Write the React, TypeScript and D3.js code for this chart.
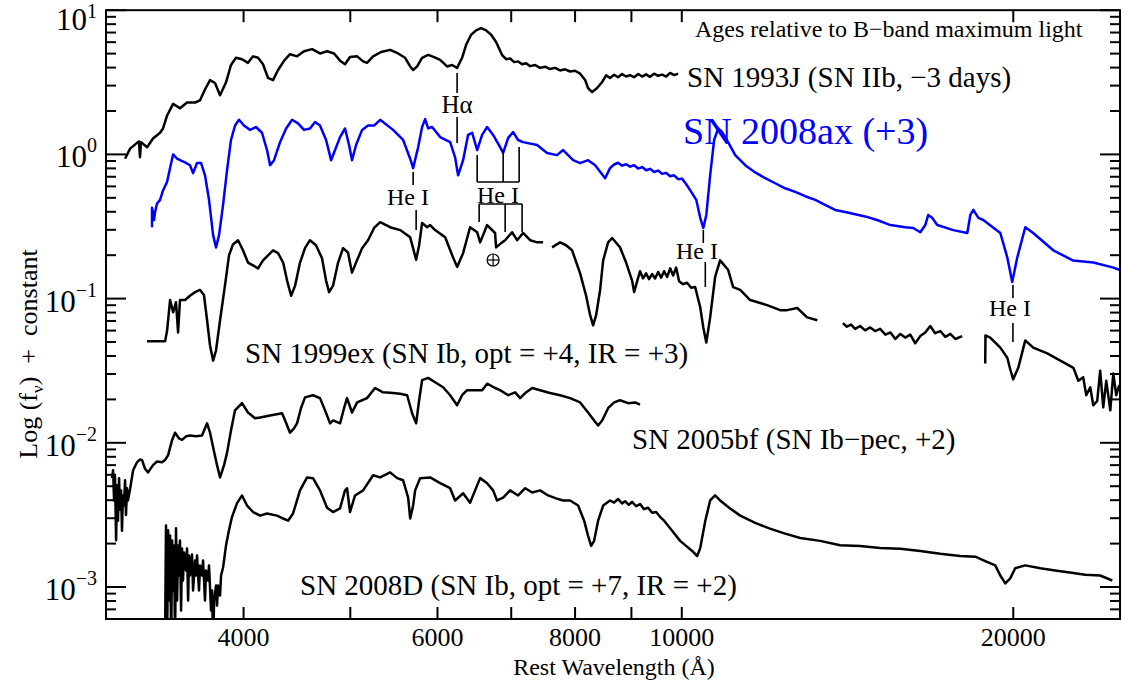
import React from 'react';
import * as d3 from 'd3';

type P = [number, number]; // [rest wavelength (Å), log10 f_nu + constant]

const sn1993J: P[] = [
  [3122,-0.03],[3155,0.04],[3201,0.08],[3214,0.09],[3221,-0.02],[3228,0.085],[3269,0.05],[3310,0.11],[3359,0.15],[3380,0.18],
  [3409,0.27],[3452,0.35],[3502,0.32],[3554,0.36],[3614,0.36],[3652,0.375],[3690,0.45],[3729,0.515],[3768,0.495],[3808,0.41],
  [3856,0.50],[3896,0.62],[3937,0.67],[3987,0.66],[4037,0.635],[4080,0.68],[4123,0.67],[4166,0.625],[4210,0.53],[4254,0.515],
  [4299,0.585],[4354,0.65],[4408,0.695],[4473,0.68],[4539,0.715],[4616,0.73],[4693,0.70],[4763,0.715],[4833,0.70],[4894,0.65],
  [4945,0.625],[4997,0.675],[5072,0.68],[5136,0.645],[5178,0.635],[5244,0.68],[5333,0.71],[5434,0.725],[5526,0.70],[5607,0.67],
  [5667,0.61],[5702,0.585],[5750,0.61],[5810,0.67],[5884,0.69],[5958,0.675],[6033,0.655],[6122,0.61],[6186,0.62],[6251,0.60],
  [6317,0.67],[6370,0.76],[6437,0.83],[6505,0.86],[6573,0.875],[6642,0.86],[6712,0.83],[6782,0.78],[6868,0.689],[6926,0.66],
  [6984,0.665],[7043,0.64],[7102,0.645],[7162,0.625],[7222,0.632],[7283,0.612],[7359,0.62],[7436,0.60],[7514,0.608],[7592,0.592],
  [7672,0.60],[7753,0.582],[7835,0.59],[7917,0.575],[8000,0.58],[8085,0.56],[8170,0.516],[8221,0.46],[8290,0.432],[8377,0.46],
  [8466,0.502],[8537,0.548],[8607,0.53],[8680,0.552],[8752,0.535],[8826,0.557],[8901,0.54],[8975,0.55],[9051,0.535],[9128,0.558],
  [9205,0.54],[9281,0.555],[9357,0.538],[9437,0.56],[9517,0.545],[9597,0.553],[9678,0.54],[9760,0.565],[9841,0.55],[9924,0.56]
];

const sn2008ax: P[] = [
  [3303,-0.505],[3303,-0.37],[3317,-0.455],[3324,-0.40],[3338,-0.34],[3359,-0.315],[3380,-0.25],[3409,-0.19],[3430,-0.095],[3452,0.0],
  [3481,-0.03],[3502,-0.04],[3539,-0.055],[3576,-0.075],[3599,-0.13],[3629,-0.06],[3660,-0.06],[3690,-0.145],[3721,-0.315],[3753,-0.56],
  [3776,-0.645],[3800,-0.56],[3832,-0.35],[3864,-0.11],[3896,0.10],[3929,0.20],[3962,0.24],[4003,0.20],[4054,0.17],[4105,0.19],
  [4157,0.15],[4201,0.03],[4228,-0.075],[4263,-0.04],[4317,0.085],[4372,0.18],[4427,0.24],[4482,0.215],[4539,0.17],[4596,0.18],
  [4645,0.225],[4693,0.20],[4753,0.10],[4803,-0.04],[4843,0.03],[4894,0.12],[4945,0.18],[4987,0.065],[5018,-0.04],[5061,0.065],
  [5125,0.17],[5189,0.20],[5255,0.20],[5322,0.24],[5468,0.17],[5584,0.10],[5667,-0.03],[5702,-0.095],[5762,0.05],[5810,0.19],
  [5847,0.245],[5884,0.18],[5933,0.19],[6033,0.12],[6161,0.085],[6225,-0.02],[6264,-0.145],[6330,-0.04],[6396,0.135],[6451,0.15],
  [6519,0.03],[6587,0.135],[6656,0.19],[6740,0.135],[6839,0.05],[6883,0.01],[6956,0.115],[7028,0.155],[7102,0.10],[7176,0.085],
  [7390,0.065],[7545,0.01],[7704,-0.005],[7802,0.03],[7967,-0.04],[8085,-0.06],[8221,-0.04],[8343,-0.075],[8430,-0.12],[8519,-0.165],
  [8607,-0.095],[8680,-0.07],[8752,-0.058],[8826,-0.078],[8901,-0.068],[8975,-0.085],[9051,-0.075],[9128,-0.098],[9205,-0.088],[9281,-0.11],
  [9357,-0.10],[9437,-0.122],[9517,-0.112],[9597,-0.135],[9678,-0.128],[9760,-0.152],[9841,-0.145],[9924,-0.172],[10006,-0.168],[10090,-0.205],
  [10176,-0.248],[10307,-0.315],
  [10393,-0.44],[10460,-0.51],[10526,-0.42],[10611,-0.145],[10700,0.10],[10789,0.18],[10880,0.155],[11016,0.085],[11182,-0.005],[11418,-0.075],
  [11659,-0.125],[11904,-0.165],[12156,-0.20],[12413,-0.235],[12677,-0.26],[12944,-0.29],[13220,-0.315],[13494,-0.35],[13779,-0.385],[14072,-0.40],
  [14369,-0.415],[14673,-0.43],[15045,-0.455],[15468,-0.49],[15955,-0.505],[16224,-0.51],[16466,-0.54],[16638,-0.49],[16742,-0.42],[16882,-0.44],
  [17059,-0.49],[17644,-0.525],[18166,-0.545],[18282,-0.42],[18398,-0.385],[18591,-0.44],[18784,-0.455],[19465,-0.545],[19751,-0.715],[19955,-0.885],
  [20167,-0.715],[20508,-0.505],[20850,-0.545],[21744,-0.665],[22650,-0.735],[23645,-0.75],[24657,-0.785],[24960,-0.80]
];

const sn1999exOptBlue: P[] = [
  [3269,-1.295],[3395,-1.295],[3409,-1.22],[3430,-1.01],[3452,-1.095],[3473,-1.025],[3488,-1.235],[3502,-1.01],[3539,-1.01],[3576,-0.98],
  [3614,-0.955],[3652,-0.94],[3682,-0.975],[3706,-1.15],[3729,-1.325],[3753,-1.43],[3776,-1.36],[3808,-1.15],[3848,-0.905],[3880,-0.70],
  [3912,-0.625],[3954,-0.595],[3995,-0.665],[4037,-0.75],[4080,-0.77],[4123,-0.79],[4166,-0.735],[4210,-0.70],[4254,-0.665],[4299,-0.685],
  [4345,-0.75],[4381,-0.875],[4418,-0.98],[4455,-0.91],[4501,-0.75],[4548,-0.65],[4596,-0.595],[4654,-0.63],[4713,-0.72],[4753,-0.875],
  [4783,-0.955],[4823,-0.91],[4874,-0.75],[4925,-0.65],[4976,-0.68],[5018,-0.82],[5061,-0.75],[5125,-0.65],[5189,-0.595],[5255,-0.51],
  [5322,-0.47],[5434,-0.505],[5549,-0.525],[5667,-0.575],[5738,-0.73],[5774,-0.63],[5810,-0.475],[5872,-0.505],[5909,-0.49],[5970,-0.525],
  [6097,-0.575],[6199,-0.715],[6251,-0.78],[6330,-0.685],[6423,-0.505],[6519,-0.54],[6560,-0.61],[6656,-0.49],[6768,-0.545],[6782,-0.645],
  [6868,-0.61],[6912,-0.595],[7013,-0.54],[7087,-0.595],[7176,-0.545],[7283,-0.595],[7390,-0.61],[7483,-0.61]
];
const sn1999exOptRed: P[] = [
  [7624,-0.645],[7753,-0.61],[7851,-0.63],[7950,-0.665],[8085,-0.825],[8187,-0.98],[8256,-1.115],[8308,-1.185],[8360,-1.115],[8430,-0.94],
  [8484,-0.735],[8572,-0.61],[8644,-0.58],[8789,-0.645],[8901,-0.75],[9013,-0.875],[9051,-0.955],[9164,-0.81],[9223,-0.86],[9281,-0.825],
  [9338,-0.865],[9397,-0.83],[9457,-0.86],[9517,-0.815],[9577,-0.855],[9637,-0.81],[9698,-0.85],[9760,-0.79],[9821,-0.84],[9882,-0.785],
  [9944,-0.88],[10027,-0.90],[10111,-0.89],[10197,-0.925],[10283,-0.92],[10393,-1.06],[10460,-1.20],[10526,-1.305],
  [10611,-1.13],[10722,-0.85],[10834,-0.735],[11016,-0.80],[11134,-0.92],[11300,-0.94],[11537,-1.01],[11953,-1.045],[12284,-1.08],[12464,-1.08],
  [12730,-1.065],[12997,-1.13],[13277,-1.15]
];
const sn1999exH: P[] = [
  [14006,-1.17],[14124,-1.195],[14248,-1.18],[14369,-1.21],[14518,-1.19],[14673,-1.22],[14828,-1.20],[14982,-1.225],[15140,-1.21],[15306,-1.25],
  [15468,-1.235],[15630,-1.28],[15793,-1.245],[15955,-1.27],[16125,-1.25],[16293,-1.31],[16466,-1.26],[16638,-1.235],[16813,-1.19],[16985,-1.24],
  [17168,-1.225],[17350,-1.265],[17533,-1.245],[17717,-1.28],[17973,-1.26]
];
const sn1999exK: P[] = [
  [18860,-1.45],[18870,-1.255],[19057,-1.27],[19261,-1.305],[19465,-1.34],[19751,-1.41],[19873,-1.49],[19996,-1.56],[20209,-1.48],[20508,-1.29],
  [20850,-1.34],[21474,-1.38],[22069,-1.43],[22678,-1.48],[22915,-1.57],[23148,-1.545],[23296,-1.67],[23492,-1.615],[23640,-1.74],[23837,-1.71],
  [23985,-1.50],[24139,-1.755],[24292,-1.57],[24498,-1.775],[24651,-1.52],[24805,-1.67],[24960,-1.60]
];

const sn2005bf: P[] = [
  [3038,-2.245],[3045,-2.19],[3051,-2.40],[3057,-2.23],[3064,-2.675],[3070,-2.295],[3076,-2.54],[3083,-2.245],[3089,-2.465],[3096,-2.33],
  [3102,-2.61],[3108,-2.365],[3115,-2.435],[3122,-2.26],[3128,-2.50],[3135,-2.315],[3141,-2.40],[3155,-2.32],[3175,-2.19],[3201,-2.135],
  [3221,-2.115],[3235,-2.12],[3255,-2.18],[3276,-2.205],[3310,-2.155],[3338,-2.13],[3373,-2.135],[3394,-2.12],[3416,-2.085],[3445,-1.98],
  [3466,-1.93],[3495,-1.97],[3517,-1.98],[3547,-1.955],[3576,-1.95],[3621,-1.955],[3667,-1.95],[3706,-1.865],[3729,-1.93],[3753,-2.03],
  [3784,-2.155],[3808,-2.24],[3840,-2.155],[3864,-2.07],[3896,-1.915],[3929,-1.775],[3987,-1.725],[4037,-1.79],[4097,-1.83],[4140,-1.825],
  [4228,-1.81],[4335,-1.795],[4363,-1.845],[4408,-1.93],[4445,-1.90],[4473,-1.865],[4510,-1.76],[4548,-1.685],[4625,-1.67],[4693,-1.69],
  [4743,-1.775],[4793,-1.865],[4823,-1.845],[4894,-1.865],[4935,-1.76],[4966,-1.69],[5018,-1.79],[5072,-1.72],[5125,-1.705],[5178,-1.69],
  [5266,-1.62],[5354,-1.65],[5468,-1.655],[5549,-1.66],[5631,-1.67],[5690,-1.795],[5738,-1.865],[5774,-1.705],[5810,-1.565],[5884,-1.55],
  [5970,-1.58],[6071,-1.615],[6161,-1.67],[6251,-1.74],[6317,-1.67],[6383,-1.635],[6519,-1.635],[6587,-1.635],[6656,-1.59],[6768,-1.62],
  [6839,-1.635],[6956,-1.67],[7058,-1.65],[7132,-1.69],[7208,-1.655],[7314,-1.62],[7436,-1.635],[7592,-1.655],[7753,-1.67],[7917,-1.69],
  [8085,-1.72],[8221,-1.79],[8325,-1.845],[8395,-1.88],[8466,-1.845],[8572,-1.76],[8680,-1.72],[8789,-1.705],[8938,-1.725],[9070,-1.72],[9164,-1.735]
];

const sn2008D: P[] = [
  [3394,-3.40],[3401,-2.573],[3409,-3.40],[3416,-2.607],[3423,-3.094],[3430,-2.642],[3438,-3.40],[3445,-2.677],[3452,-3.024],[3459,-2.712],
  [3466,-3.40],[3473,-2.593],[3481,-3.094],[3488,-2.712],[3495,-2.92],[3502,-2.677],[3510,-3.163],[3517,-2.733],[3524,-2.955],[3532,-2.761],
  [3547,-2.886],[3554,-2.733],[3562,-3.094],[3569,-2.782],[3576,-2.92],[3591,-2.775],[3599,-3.024],[3614,-2.816],[3621,-2.92],[3629,-2.782],
  [3644,-3.024],[3652,-2.851],[3667,-2.92],[3675,-2.816],[3690,-3.094],[3698,-2.886],[3713,-2.955],[3721,-2.851],[3737,-3.163],[3745,-3.024],
  [3753,-3.40],[3761,-3.094],[3776,-2.99],[3784,-3.129],[3792,-2.99],[3808,-3.059],[3816,-2.92],[3832,-2.865],
  [3856,-2.71],[3880,-2.605],[3904,-2.515],[3945,-2.42],[3987,-2.365],[4029,-2.435],[4080,-2.48],[4140,-2.505],[4201,-2.49],[4290,-2.505],
  [4345,-2.525],[4390,-2.54],[4436,-2.49],[4501,-2.33],[4568,-2.24],[4625,-2.245],[4693,-2.33],[4763,-2.45],[4823,-2.48],[4894,-2.455],
  [4945,-2.33],[4966,-2.315],[4997,-2.48],[5050,-2.365],[5136,-2.33],[5244,-2.225],[5322,-2.24],[5434,-2.205],[5515,-2.245],[5584,-2.26],
  [5643,-2.38],[5667,-2.525],[5702,-2.435],[5726,-2.33],[5786,-2.245],[5909,-2.24],[6033,-2.28],[6161,-2.315],[6225,-2.40],[6330,-2.35],
  [6423,-2.415],[6491,-2.33],[6560,-2.245],[6656,-2.28],[6740,-2.33],[6796,-2.40],[6883,-2.38],[6984,-2.33],[7102,-2.365],[7208,-2.315],
  [7314,-2.345],[7436,-2.33],[7561,-2.365],[7689,-2.385],[7802,-2.40],[7917,-2.40],[8051,-2.435],[8153,-2.54],[8221,-2.645],[8273,-2.715],
  [8325,-2.68],[8395,-2.54],[8484,-2.435],[8607,-2.40],[8680,-2.415],[8752,-2.39],[8826,-2.42],[8882,-2.405],[8950,-2.43],[9013,-2.41],
  [9090,-2.44],[9164,-2.425],[9240,-2.46],[9320,-2.45],[9400,-2.485],[9477,-2.48],[9560,-2.515],
  [9637,-2.54],[9800,-2.61],[9965,-2.68],[10090,-2.715],[10219,-2.75],[10327,-2.785],[10393,-2.73],[10504,-2.54],[10611,-2.40],[10722,-2.365],
  [10834,-2.40],[11063,-2.455],[11300,-2.505],[11659,-2.555],[12023,-2.595],[12413,-2.63],[12810,-2.66],[13356,-2.68],[13925,-2.71],[14518,-2.715],
  [15140,-2.73],[15793,-2.735],[16466,-2.75],[17168,-2.77],[17900,-2.785],[18475,-2.79],[18861,-2.82],[19261,-2.85],[19465,-2.92],[19669,-2.975],
  [19873,-2.94],[20081,-2.87],[20508,-2.85],[21158,-2.87],[21834,-2.885],[22510,-2.90],[23246,-2.915],[23985,-2.92],[24600,-2.955]
];

const xTicks = [4000, 5000, 6000, 7000, 8000, 9000, 10000, 20000];
const xTickLabels = [4000, 6000, 8000, 10000, 20000];
const yMajor = [1, 0, -1, -2, -3];

const FONT = "'Liberation Serif', 'Times New Roman', serif";

export default function App() {
  const X0 = 106, X1 = 1120, Y0 = 619, Y1 = 10.2;
  const x = d3.scaleLog().domain([3000, 25000]).range([X0, X1]);
  const y = d3.scaleLog().domain([6e-4, 10]).range([Y0, Y1]);
  const line = d3.line<P>().x(d => x(d[0])).y(d => y(Math.pow(10, d[1])));

  const minor: number[] = [];
  for (let e = -4; e <= 0; e++) for (let k = 2; k <= 9; k++) {
    const v = k * Math.pow(10, e);
    if (v > 6e-4 && v < 10) minor.push(v);
  }

  const black = [sn1993J, sn1999exOptBlue, sn1999exOptRed, sn1999exH, sn1999exK, sn2005bf, sn2008D];
  const vline = (lam: number, ya: number, yb: number, key: string) => (
    <line key={key} x1={x(lam)} x2={x(lam)} y1={ya} y2={yb} stroke="#000" strokeWidth={1.6} />
  );
  const minusify = (e: number) => (e < 0 ? '\u2212' + Math.abs(e) : String(e));

  return (
    <svg width={1123} height={681} style={{ position: 'absolute', left: 0, top: 0, background: '#fff' }} fontFamily={FONT}>
      <rect x={0} y={0} width={1123} height={681} fill="#fff" />
      <defs>
        <clipPath id="plot"><rect x={X0} y={Y1} width={X1 - X0} height={Y0 - Y1} /></clipPath>
      </defs>
      <g clipPath="url(#plot)" fill="none" strokeLinejoin="round">
        {black.map((s, i) => <path key={i} d={line(s) || ''} stroke="#000" strokeWidth={2.5} />)}
        <path d={line(sn2008ax) || ''} stroke="#0000ff" strokeWidth={2.5} />
      </g>

      {/* line identifications */}
      <g>
        {vline(6251, 73, 93, 'ha1')}{vline(6251, 117, 143, 'ha2')}
        {vline(5702, 172, 185, 'he1a')}{vline(5738, 210, 230, 'he1b')}
        {vline(6519, 155, 182, 'b1')}{vline(6883, 150, 182, 'b2')}{vline(7117, 147, 182, 'b3')}
        <line x1={x(6519)} x2={x(7117)} y1={182} y2={182} stroke="#000" strokeWidth={1.6} />
        {vline(6546, 204, 222, 'c1')}{vline(6912, 204, 232, 'c2')}{vline(7161, 204, 232, 'c3')}
        <line x1={x(6546)} x2={x(7161)} y1={204} y2={204} stroke="#000" strokeWidth={1.6} />
        {vline(10460, 230, 243, 'd1')}{vline(10504, 262, 287, 'd2')}
        {vline(19985, 285, 298, 'e1')}{vline(19985, 323, 342, 'e2')}
        <circle cx={x(6740)} cy={260} r={6} fill="none" stroke="#000" strokeWidth={1.2} />
        <line x1={x(6740) - 6} x2={x(6740) + 6} y1={260} y2={260} stroke="#000" strokeWidth={1.2} />
        <line x1={x(6740)} x2={x(6740)} y1={254} y2={266} stroke="#000" strokeWidth={1.2} />
      </g>
      <g fontSize={24} fill="#000">
        <text x={457} y={113} textAnchor="middle" fontSize={25}>H&#945;</text>
        <text x={408} y={205} textAnchor="middle">He I</text>
        <text x={498} y={203} textAnchor="middle">He I</text>
        <text x={697} y={259} textAnchor="middle">He I</text>
        <text x={1010} y={316} textAnchor="middle">He I</text>
      </g>

      {/* spectrum labels */}
      <g fill="#000">
        <text x={695} y={37} fontSize={24}>Ages relative to B{'\u2212'}band maximum light</text>
        <text x={687} y={87} fontSize={29}>SN 1993J (SN IIb, {'\u2212'}3 days)</text>
        <text x={683} y={144} fontSize={38} fill="#0000ff">SN 2008ax (+3)</text>
        <text x={245} y={363} fontSize={29}>SN 1999ex (SN Ib, opt = +4, IR = +3)</text>
        <text x={632} y={449} fontSize={29}>SN 2005bf (SN Ib{'\u2212'}pec, +2)</text>
        <text x={300} y={595} fontSize={29}>SN 2008D (SN Ib, opt = +7, IR = +2)</text>
      </g>

      {/* frame */}
      <rect x={X0} y={Y1} width={X1 - X0} height={Y0 - Y1} fill="none" stroke="#000" strokeWidth={2} />
      <g stroke="#000" strokeWidth={2}>
        {xTicks.map(t => (
          <g key={'xt' + t}>
            <line x1={x(t)} x2={x(t)} y1={Y0} y2={Y0 - 12} />
            <line x1={x(t)} x2={x(t)} y1={Y1} y2={Y1 + 12} />
          </g>
        ))}
        {yMajor.map(e => (
          <g key={'ym' + e}>
            <line x1={X0} x2={X0 + 20} y1={y(Math.pow(10, e))} y2={y(Math.pow(10, e))} />
            <line x1={X1} x2={X1 - 20} y1={y(Math.pow(10, e))} y2={y(Math.pow(10, e))} />
          </g>
        ))}
        {minor.map((v, i) => (
          <g key={'yn' + i}>
            <line x1={X0} x2={X0 + 10} y1={y(v)} y2={y(v)} />
            <line x1={X1} x2={X1 - 10} y1={y(v)} y2={y(v)} />
          </g>
        ))}
      </g>
      <g fill="#000" fontSize={26}>
        {xTickLabels.map(t => (
          <text key={'xl' + t} x={x(t)} y={646} textAnchor="middle">{t}</text>
        ))}
      </g>
      <g fill="#000">
        {yMajor.map(e => {
          const ty = y(Math.pow(10, e)) + (e === 1 ? 7 : 0);
          return (
            <text key={'yl' + e} x={97} y={ty + 13} textAnchor="end" fontSize={31}>
              10<tspan dy={e === 1 ? -12 : -15} fontSize={20}>{minusify(e)}</tspan>
            </text>
          );
        })}
      </g>
      <text x={614} y={675} textAnchor="middle" fontSize={24} fill="#000">Rest Wavelength (&#197;)</text>
      <text transform="translate(37,354) rotate(-90)" textAnchor="middle" fontSize={26} fill="#000">
        Log (f<tspan dy={6} fontSize={17}>&#957;</tspan><tspan dy={-6}>)</tspan>{'\u00a0 +\u00a0 '}constant
      </text>
    </svg>
  );
}
